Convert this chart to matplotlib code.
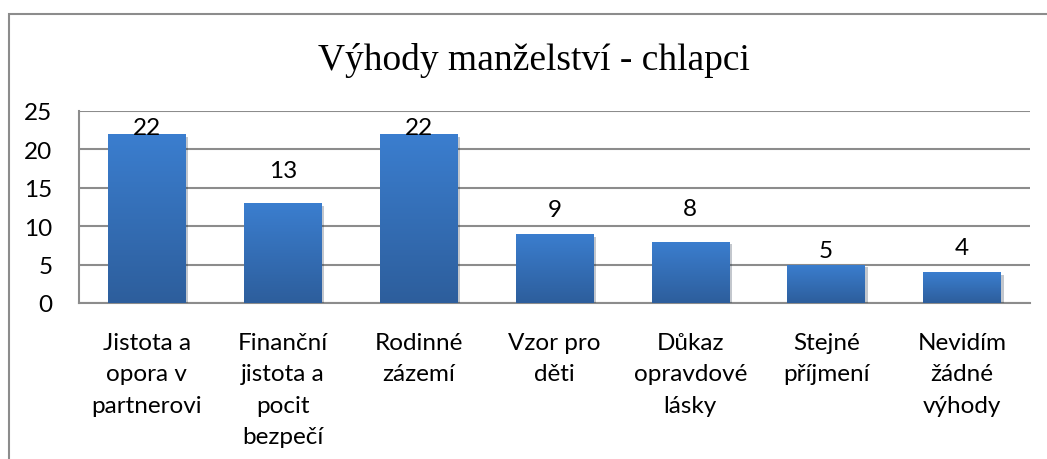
import numpy as np
import matplotlib
matplotlib.use("Agg")
import matplotlib.pyplot as plt
from matplotlib.colors import LinearSegmentedColormap
from matplotlib.patches import Rectangle
import matplotlib.patheffects as pe

# data
kategorie = ["Jistota a\nopora v\npartnerovi", "Finanční\njistota a\npocit\nbezpečí",
             "Rodinné\nzázemí", "Vzor pro\nděti", "Důkaz\nopravdové\nlásky",
             "Stejné\npříjmení", "Nevidím\nžádné\nvýhody"]
hodnoty = [22, 13, 22, 9, 8, 5, 4]
titulek = "Výhody manželství - chlapci"
# posun popisku nad sloupec (jak je v originale), v jednotkach osy y
posun_popisku = [0, 3.4, 0, 2.3, 3.5, 1.0, 2.4]

W, H = 1047, 460
fig = plt.figure(figsize=(W / 100, H / 100), dpi=100)
ax = fig.add_axes([79 / W, 1 - 304 / H, (1030 - 79) / W, (304 - 112) / H])

seda = "#8c8c8c"
pismo = "Lato"
vel = 17.5
x = np.arange(len(hodnoty))
sloupce = ax.bar(x, hodnoty, width=0.57, color="#3470bb", zorder=3,
                 path_effects=[pe.SimplePatchShadow(offset=(2, -2), alpha=0.25), pe.Normal()])

# gradient v kazdem sloupci
cmap = LinearSegmentedColormap.from_list("modra", ["#2d5e9c", "#3b7ecf"])
grad = np.linspace(0, 1, 256).reshape(-1, 1)
for s in sloupce:
    im = ax.imshow(grad, extent=[s.get_x(), s.get_x() + s.get_width(), 0, s.get_height()],
                   origin="lower", aspect="auto", cmap=cmap, zorder=4)
    im.set_clip_path(s)

# popisky hodnot
for xi, v, p in zip(x, hodnoty, posun_popisku):
    ax.text(xi, v + p, str(v), ha="center", va="baseline",
            fontsize=vel, family=pismo, color="black", zorder=5)

ax.set_xlim(-0.5, len(hodnoty) - 0.5)
ax.set_ylim(0, 25)
ax.set_yticks(range(0, 26, 5))
ax.yaxis.grid(True, color=seda, linewidth=1.5, zorder=0)
ax.set_axisbelow(True)
for k in ["top", "right"]:
    ax.spines[k].set_visible(False)
for k in ["left", "bottom"]:
    ax.spines[k].set_color(seda)
    ax.spines[k].set_linewidth(1.5)
ax.set_xticks(x, kategorie, fontsize=vel, family=pismo, linespacing=1.6, va="top")
ax.tick_params(axis="x", length=0, pad=21)
ax.tick_params(axis="y", length=0, pad=19, labelsize=vel)
for t in ax.get_yticklabels():
    t.set_family(pismo)

fig.text(534 / W, 1 - 70 / H, titulek, ha="center", va="baseline",
         fontsize=27, family="Liberation Serif")

# ramecek grafu
fig.add_artist(Rectangle((9 / W, -0.1), 1.2, 1 - 15 / H + 0.1, fill=False,
                         edgecolor=seda, linewidth=1.5, transform=fig.transFigure))

fig.savefig("out.png", dpi=100)
